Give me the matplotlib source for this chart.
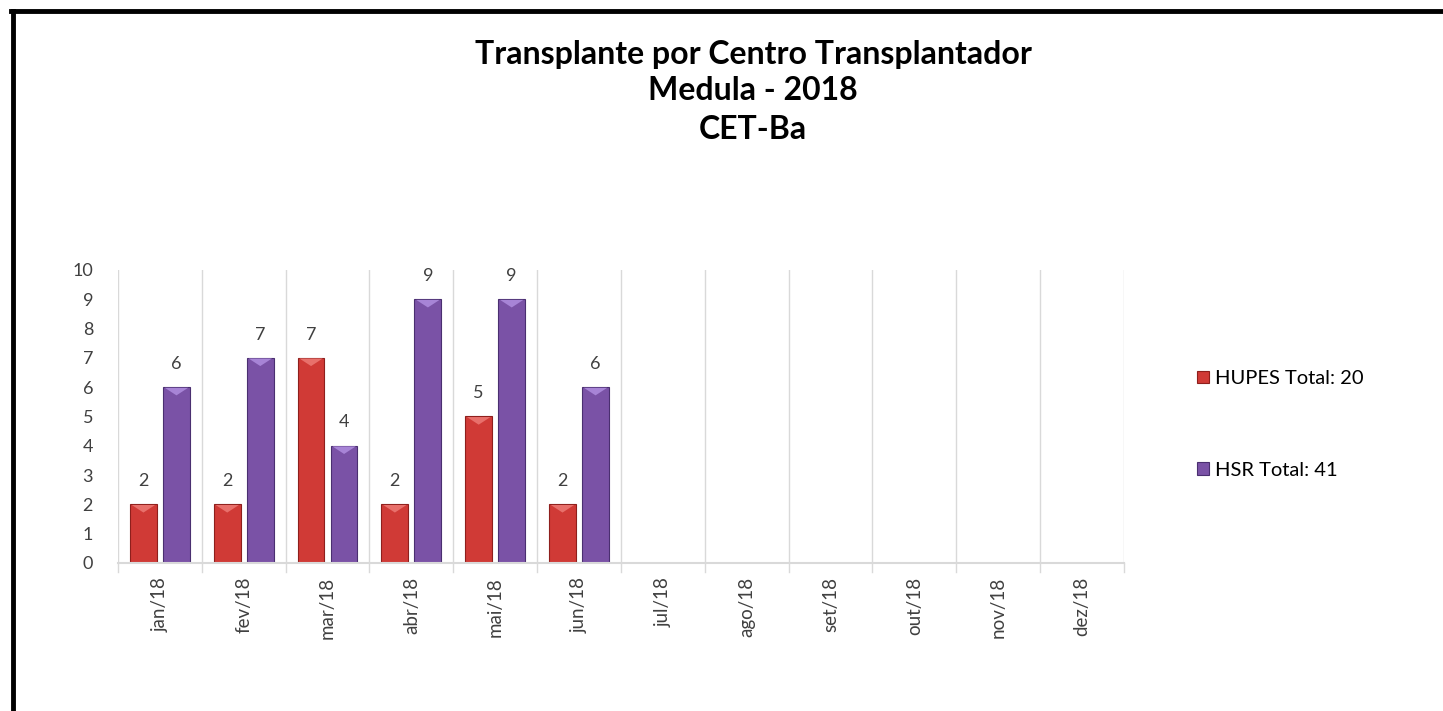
import matplotlib.pyplot as plt
import numpy as np

plt.rcParams['font.family'] = ['Lato', 'DejaVu Sans']

months = ['jan/18', 'fev/18', 'mar/18', 'abr/18', 'mai/18', 'jun/18',
          'jul/18', 'ago/18', 'set/18', 'out/18', 'nov/18', 'dez/18']
hupes = [2, 2, 7, 2, 5, 2]
hsr = [6, 7, 4, 9, 9, 6]
hupes_label = 'HUPES Total: 20'
hsr_label = 'HSR Total: 41'

fig = plt.figure(figsize=(14.43, 7.11), dpi=100)
ax = fig.add_axes([0.0818, 0.2082, 0.697, 0.4121])

x = np.arange(len(months))
w = 0.32
off = 0.197
b1 = ax.bar(x[:len(hupes)] - off, hupes, w, color='#D03A36', edgecolor='#8E1F1C', linewidth=0.8, label=hupes_label)
b2 = ax.bar(x[:len(hsr)] + off, hsr, w, color='#7A52A6', edgecolor='#4A2F70', linewidth=0.8, label=hsr_label)

# lighter bevel on top of each bar
for bars, light in ((b1, '#E8706B'), (b2, '#A784D6')):
    for r in bars:
        x0 = r.get_x()
        x1 = x0 + r.get_width()
        h = r.get_height()
        ax.fill([x0 + 0.02, x1 - 0.02, (x0 + x1) / 2], [h - 0.02, h - 0.02, h - 0.28],
                color=light, lw=0, zorder=3)

for bars in (b1, b2):
    for r in bars:
        ax.annotate(str(int(r.get_height())), (r.get_x() + r.get_width() / 2, r.get_height()),
                    xytext=(0, 11), textcoords='offset points', ha='center', va='bottom',
                    fontsize=13, color='#404040')

ax.set_xlim(-0.5, len(months) - 0.5)
ax.set_ylim(0, 10)
ax.set_yticks(range(0, 11))
ax.set_xticks(x)
ax.set_xticklabels(months, rotation=90, fontsize=13.5, color='#404040')
ax.tick_params(axis='y', length=0, labelsize=13, labelcolor='#404040', pad=18)
ax.tick_params(axis='x', length=0, pad=10)

# category gridlines and ticks on boundaries
for b in np.arange(-0.5, len(months) + 0.5, 1):
    ax.axvline(b, color='#D9D9D9', lw=1, zorder=0)
    ax.plot([b, b], [0, -0.3], color='#D9D9D9', lw=1, clip_on=False)
for s in ['top', 'right', 'left']:
    ax.spines[s].set_visible(False)
ax.spines['bottom'].set_color('#D9D9D9')
ax.spines['bottom'].set_linewidth(1.5)

fig.text(0.522, 0.923, 'Transplante por Centro Transplantador', ha='center', va='center', fontsize=23, fontweight='bold')
fig.text(0.522, 0.873, 'Medula - 2018', ha='center', va='center', fontsize=23, fontweight='bold')
fig.text(0.522, 0.818, 'CET-Ba', ha='center', va='center', fontsize=23, fontweight='bold')

leg = fig.legend(handles=[b1, b2], loc='upper left', bbox_to_anchor=(0.817, 0.505), frameon=False,
                 fontsize=14.5, handlelength=0.6, handleheight=0.6, handletextpad=0.3, labelspacing=3.7)

# frame lines along top and left
fig.add_artist(plt.Line2D([13 / 1443, 13 / 1443], [0, 1 - 11 / 711], color='black', lw=3.5))
fig.add_artist(plt.Line2D([11 / 1443, 1], [1 - 11 / 711, 1 - 11 / 711], color='black', lw=3.5))

fig.savefig('out.png', dpi=100)
